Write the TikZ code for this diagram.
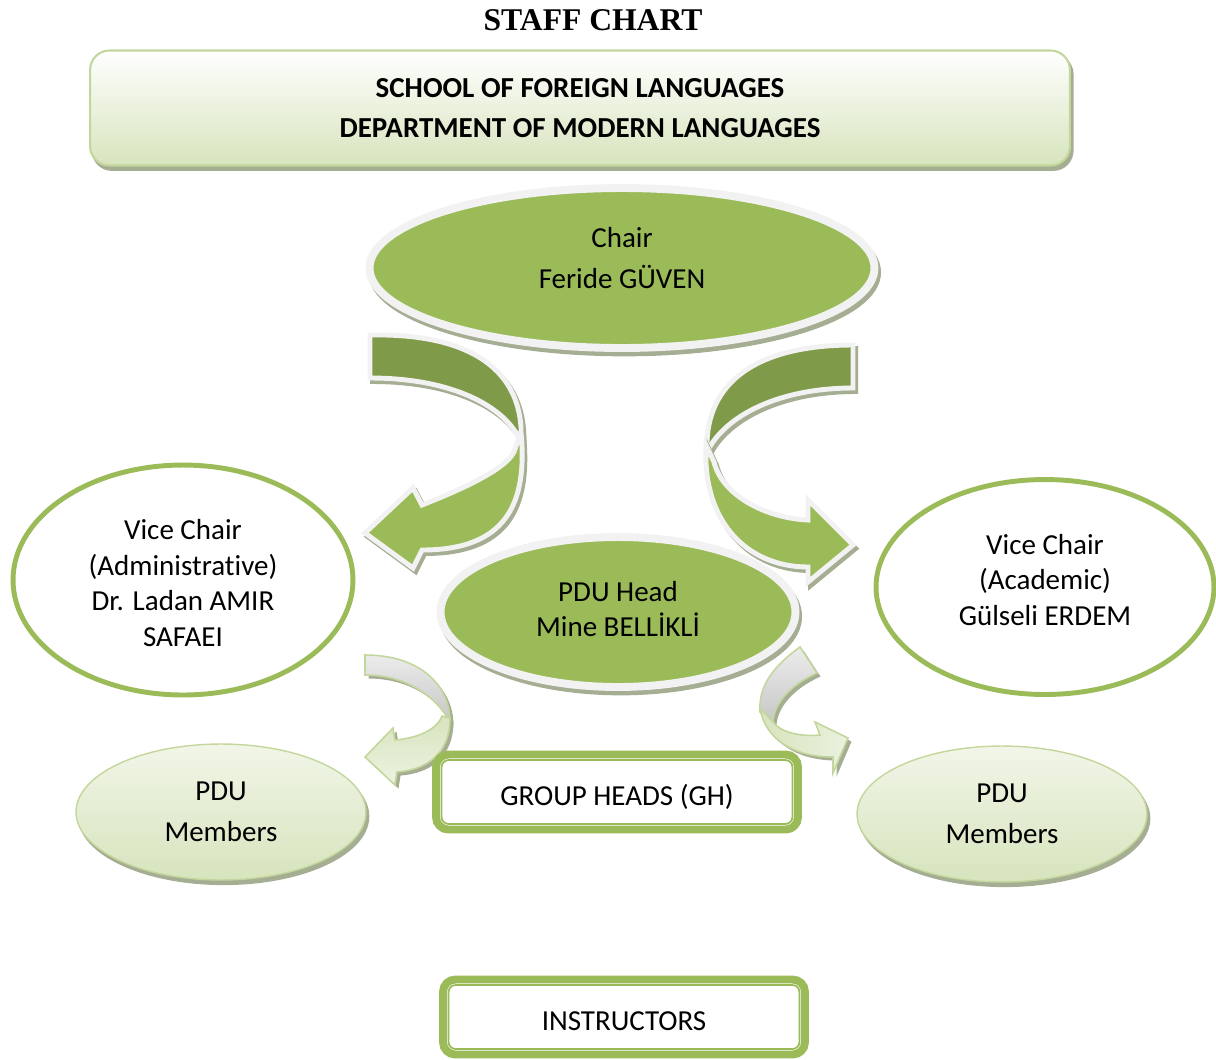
\documentclass[tikz,border=0pt]{standalone}
\usepackage{fontspec}
\setmainfont{Carlito}[Ligatures=NoCommon]
\newfontfamily\titlefont{Liberation Serif}
\usetikzlibrary{shapes.geometric,shadows}

\definecolor{leafgreen}{HTML}{9BBB59}
\definecolor{leafdark}{HTML}{7F9A48}
\definecolor{leafpale}{HTML}{D7E4BD}
\definecolor{leafline}{HTML}{C3D69B}
\definecolor{shadegray}{HTML}{A5AD93}
\definecolor{rim}{HTML}{F2F2F2}

\tikzset{
  txt/.style={align=center, font=\fontsize{16.5}{20.4}\selectfont},
  widetxt/.style={align=center, font=\fontsize{16.5}{23.6}\selectfont},
  dropped/.style={general shadow={fill=shadegray, draw=shadegray, line width=#1,
      shadow xshift=1.5pt, shadow yshift=-2.5pt}},
  solid oval/.style={ellipse, inner sep=0pt, fill=leafgreen, draw=rim,
      line width=4.5pt, dropped=4.5pt},
  ring oval/.style={ellipse, inner sep=0pt, fill=white, draw=leafgreen, line width=2.8pt},
  member oval/.style={ellipse, inner sep=0pt, draw=leafline, line width=0.8pt,
      top color=leafpale!35, bottom color=leafpale, dropped=0.8pt,
      minimum width=5.8cm, minimum height=2.72cm},
  headbox/.style={rectangle, rounded corners=11pt, draw=leafline, line width=1.2pt,
      top color=white, bottom color=leafpale, dropped=1.2pt},
  framebox/.style={rectangle, rounded corners=7pt, draw=leafgreen, line width=4.5pt,
      fill=white, minimum width=7.24cm, minimum height=1.5cm},
  inner frame/.style={draw=leafgreen, line width=1pt, rounded corners=4pt},
  ribbon/.style={draw=rim, line width=2.8pt, line join=miter,
      general shadow={fill=shadegray, draw=shadegray, line width=2.8pt,
      shadow xshift=1.5pt, shadow yshift=-2pt}},
  thin ribbon/.style={draw=leafline, line width=0.9pt, line join=miter,
      general shadow={fill=shadegray, shadow xshift=2pt, shadow yshift=-2pt}}
}

\begin{document}
\begin{tikzpicture}[x=0.02cm, y=-0.02cm]
\useasboundingbox (0,0) rectangle (1216,1059);

\node[font=\titlefont\bfseries\fontsize{18}{22}\selectfont] (title) at (593,20) {STAFF CHART};

\node[headbox, minimum width=19.6cm, minimum height=2.3cm, widetxt,
      font=\bfseries\fontsize{16.5}{23.2}\selectfont] (dept) at (580,108)
      {SCHOOL OF FOREIGN LANGUAGES\\DEPARTMENT OF MODERN LANGUAGES};

% big ribbon arrows
\path[ribbon, fill=leafdark] (370,335) .. controls (470,333) and (525,370) .. (521,442)
    .. controls (505,405) and (450,378) .. (370,378) -- cycle;
\path[ribbon, fill=leafgreen] (521,432) .. controls (528,505) and (505,550) .. (422,550)
    -- (413,568) -- (365,533) -- (413,488) -- (422,505)
    .. controls (460,490) and (505,470) .. (514,452) -- cycle;

\path[ribbon, fill=leafdark] (853,345) .. controls (760,345) and (704,380) .. (707,452)
    .. controls (725,415) and (780,388) .. (853,388) -- cycle;
\path[ribbon, fill=leafgreen] (706,445) .. controls (702,525) and (750,567) .. (808,567)
    -- (808,582) -- (853,545) -- (808,500) -- (808,520)
    .. controls (765,518) and (722,495) .. (714,462) -- cycle;

\node[solid oval, minimum width=10.1cm, minimum height=3.2cm] (chair) at (622,268) {};
\node[widetxt] (chairtext) at (622,258) {Chair\\Feride GÜVEN};

\node[ring oval, minimum width=6.8cm, minimum height=4.6cm] (viceadm) at (183,580) {};
\node[txt] (viceadmtext) at (183,583) {Vice Chair\\(Administrative)\\Dr. Ladan AMIR\\SAFAEI};
\node[ring oval, minimum width=6.76cm, minimum height=4.3cm] (viceacad) at (1045,587) {};
\node[txt] (viceacadtext) at (1045,580) {Vice Chair\\(Academic)\\Gülseli ERDEM};

\node[solid oval, minimum width=7.1cm, minimum height=3.0cm] (pduhead) at (618,612) {};
\node[txt] (pduheadtext) at (618,609) {PDU Head\\Mine BELLİKLİ};

% small ribbon arrows
\path[thin ribbon, top color=gray!15, bottom color=gray!45]
    (365,655) .. controls (420,655) and (450,685) .. (450,722)
    .. controls (435,695) and (405,675) .. (365,675) -- cycle;
\path[thin ribbon, top color=leafpale, bottom color=leafpale!45]
    (450,718) .. controls (450,755) and (425,770) .. (397,772)
    -- (395,785) -- (365,757) -- (393,728) -- (395,740)
    .. controls (420,738) and (438,728) .. (442,716) -- cycle;

\path[thin ribbon, top color=gray!15, bottom color=gray!45]
    (800,647) .. controls (775,665) and (758,685) .. (760,712)
    -- (773,725) .. controls (772,705) and (790,685) .. (817,673) -- cycle;
\path[thin ribbon, left color=leafpale, right color=leafpale!50]
    (760,708) .. controls (765,740) and (795,757) .. (833,757)
    -- (833,773) -- (848,738) -- (815,722) -- (820,735)
    .. controls (800,737) and (780,732) .. (773,722) -- cycle;

\node[member oval, widetxt] (pduleft) at (221,812) {PDU\\Members};
\node[member oval, widetxt] (pduright) at (1002,814) {PDU\\Members};

\node[framebox] (gh) at (617,792) {};
\draw[inner frame] ([shift={(5.4pt,-5.4pt)}]gh.north west) rectangle ([shift={(-5.4pt,5.4pt)}]gh.south east);
\node[txt] (ghtext) at (617,797) {GROUP HEADS (GH)};

\node[framebox] (instr) at (624,1017) {};
\draw[inner frame] ([shift={(5.4pt,-5.4pt)}]instr.north west) rectangle ([shift={(-5.4pt,5.4pt)}]instr.south east);
\node[txt] (instrtext) at (624,1021) {INSTRUCTORS};

\end{tikzpicture}
\end{document}
